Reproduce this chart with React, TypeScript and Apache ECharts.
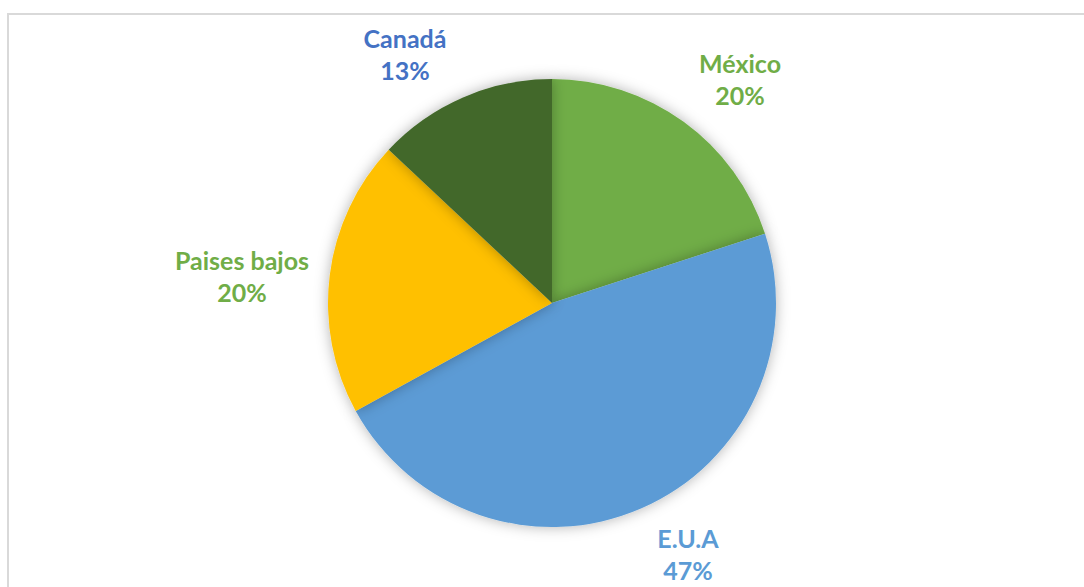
import React, { useEffect, useRef } from "react";
import * as echarts from "echarts";

const categories = ["México", "E.U.A", "Paises bajos", "Canadá"];
const values = [20, 47, 20, 13];
const sliceColors = ["#70AD47", "#5B9BD5", "#FFC000", "#43682B"];
const labelColors = ["#70AD47", "#5B9BD5", "#70AD47", "#4472C4"];
const labelCenters: [number, number][] = [
  [740, 79],
  [688, 554],
  [242, 276],
  [405, 54],
];

export default function App() {
  const ref = useRef<HTMLDivElement>(null);
  useEffect(() => {
    if (!ref.current) return;
    const chart = echarts.init(ref.current, null, { renderer: "svg" });
    chart.setOption({
      animation: false,
      backgroundColor: "#ffffff",
      graphic: [
        {
          type: "rect",
          shape: { x: 8, y: 14, width: 1200, height: 700 },
          style: { fill: "none", stroke: "#d9d9d9", lineWidth: 2 },
          silent: true,
        },
      ],
      series: [
        {
          type: "pie",
          center: [552, 303],
          radius: 224,
          startAngle: 90,
          clockwise: true,
          percentPrecision: 0,
          data: categories.map((name, i) => ({
            name,
            value: values[i],
            itemStyle: { color: sliceColors[i] },
            label: { color: labelColors[i] },
          })),
          itemStyle: {
            borderWidth: 0,
            shadowBlur: 14,
            shadowColor: "rgba(0,0,0,0.3)",
          },
          label: {
            show: true,
            position: "outside",
            formatter: "{b}\n{d}%",
            fontFamily: "Lato",
            fontWeight: "bold",
            fontSize: 25,
            lineHeight: 32,
            align: "center",
          },
          labelLine: { show: false },
          labelLayout: (params: any) => {
            const p = labelCenters[params.dataIndex];
            return { x: p[0], y: p[1], align: "center", verticalAlign: "middle" };
          },
        },
      ],
    });
    return () => chart.dispose();
  }, []);
  return (
    <div
      ref={ref}
      style={{ position: "absolute", left: 0, top: 0, width: 1084, height: 587 }}
    />
  );
}
